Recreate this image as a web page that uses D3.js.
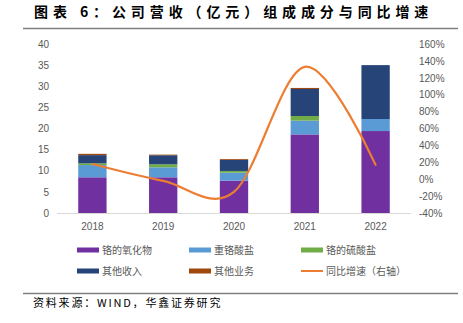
<!DOCTYPE html>
<html><head><meta charset="utf-8">
<script src="https://cdn.jsdelivr.net/npm/d3@7"></script>
<style>
body{margin:0;background:#fff;}
svg{display:block;font-family:"Noto Sans CJK SC","Noto Sans",sans-serif;}
</style></head>
<body><svg id="c" width="463" height="323"></svg>
<script>
const years = ["2018","2019","2020","2021","2022"];
const seriesNames = ["铬的氧化物","重铬酸盐","铬的硫酸盐","其他收入","其他业务"];
const chromeOxide = [8.45, 8.45, 7.65, 18.6, 19.4];
const dichromate = [2.9, 2.37, 1.9, 3.25, 2.85];
const chromeSulfate = [0.4, 0.7, 0.4, 1.1, 0];
const otherIncome = [1.95, 2.15, 2.6, 6.4, 12.75];
const otherBusiness = [0.3, 0.15, 0.2, 0.25, 0];
const growth = [18, -2, -15, 133, 17];
const leftTicks = [0,5,10,15,20,25,30,35,40];
const rightTicks = [-40,-20,0,20,40,60,80,100,120,140,160];
const lineName = "同比增速（右轴）";
const colors = ["#7030A0","#5B9BD5","#70AD47","#264478","#9E480E"];
const lineColor = "#ED7D31";

const svg = d3.select("#c");
// title
svg.append("text").attr("x",34).attr("y",17).attr("font-size",14).attr("font-weight","bold")
  .attr("letter-spacing",4.9).attr("fill","#000").text("图表 6：公司营收（亿元）组成成分与同比增速");
svg.append("line").attr("x1",23).attr("x2",458).attr("y1",28.5).attr("y2",28.5).attr("stroke","#7f7f7f").attr("stroke-width",1.5);
svg.append("line").attr("x1",23).attr("x2",458).attr("y1",293.5).attr("y2",293.5).attr("stroke","#7f7f7f").attr("stroke-width",1.5);
svg.append("text").attr("x",33).attr("y",307).attr("font-size",11).attr("letter-spacing",1.8).attr("fill","#000").text("资料来源：WIND，华鑫证券研究");

const x0 = 57, x1 = 411, yTop = 44, yBot = 213;
const x = d3.scaleBand().domain(years).range([x0,x1]).paddingInner(0.6).paddingOuter(0.3);
const yL = d3.scaleLinear().domain([0,40]).range([yBot,yTop]);
const yR = d3.scaleLinear().domain([-40,160]).range([yBot,yTop]);

const data = years.map((yr,i)=>({year:yr, s0:chromeOxide[i], s1:dichromate[i], s2:chromeSulfate[i], s3:otherIncome[i], s4:otherBusiness[i]}));
const stack = d3.stack().keys(["s0","s1","s2","s3","s4"])(data);

svg.append("g").selectAll("g").data(stack).join("g").attr("fill",(d,i)=>colors[i])
  .selectAll("rect").data(d=>d).join("rect")
  .attr("x",d=>x(d.data.year)).attr("width",x.bandwidth())
  .attr("y",d=>yL(d[1])).attr("height",d=>Math.max(0,yL(d[0])-yL(d[1])));

// baseline
svg.append("line").attr("x1",x0).attr("x2",x1).attr("y1",yBot+0.5).attr("y2",yBot+0.5).attr("stroke","#d9d9d9").attr("stroke-width",1);

// left axis
const gl = svg.append("g").attr("transform",`translate(${x0-8},0)`)
  .call(d3.axisLeft(yL).tickValues(leftTicks).tickSize(0).tickPadding(0));
gl.select(".domain").remove();
gl.selectAll("text").attr("font-size",10).attr("fill","#595959").attr("font-family","Liberation Sans, Arial, sans-serif");

// right axis
const gr = svg.append("g").attr("transform",`translate(${x1+8},0)`)
  .call(d3.axisRight(yR).tickValues(rightTicks).tickSize(0).tickPadding(0).tickFormat(d=>d+"%"));
gr.select(".domain").remove();
gr.selectAll("text").attr("font-size",10).attr("fill","#595959").attr("font-family","Liberation Sans, Arial, sans-serif");

// x axis
const gx = svg.append("g").attr("transform",`translate(0,${yBot})`)
  .call(d3.axisBottom(x).tickSize(0).tickPadding(10));
gx.select(".domain").remove();
gx.selectAll("text").attr("font-size",10).attr("fill","#595959").attr("font-family","Liberation Sans, Arial, sans-serif");

// line
const line = d3.line().x((d,i)=>x(years[i])+x.bandwidth()/2).y(d=>yR(d)).curve(d3.curveCardinal.tension(0));
svg.append("path").datum(growth).attr("d",line).attr("fill","none").attr("stroke",lineColor).attr("stroke-width",2.2).attr("stroke-linecap","round");

// legend
const legItems = seriesNames.map((n,i)=>({name:n,color:colors[i],type:"bar"}));
legItems.push({name:lineName,color:lineColor,type:"line"});
const lg = svg.append("g");
legItems.forEach((it,i)=>{
  const col = i%3, row = Math.floor(i/3);
  const lx = 77 + col*112, ly = 250 + row*21;
  if(it.type==="bar") lg.append("rect").attr("x",lx).attr("y",ly-2.5).attr("width",22).attr("height",5).attr("fill",it.color);
  else lg.append("line").attr("x1",lx).attr("x2",lx+22).attr("y1",ly).attr("y2",ly).attr("stroke",it.color).attr("stroke-width",2);
  lg.append("text").attr("x",lx+25).attr("y",ly+4).attr("font-size",10).attr("fill","#595959").text(it.name);
});
</script></body></html>
